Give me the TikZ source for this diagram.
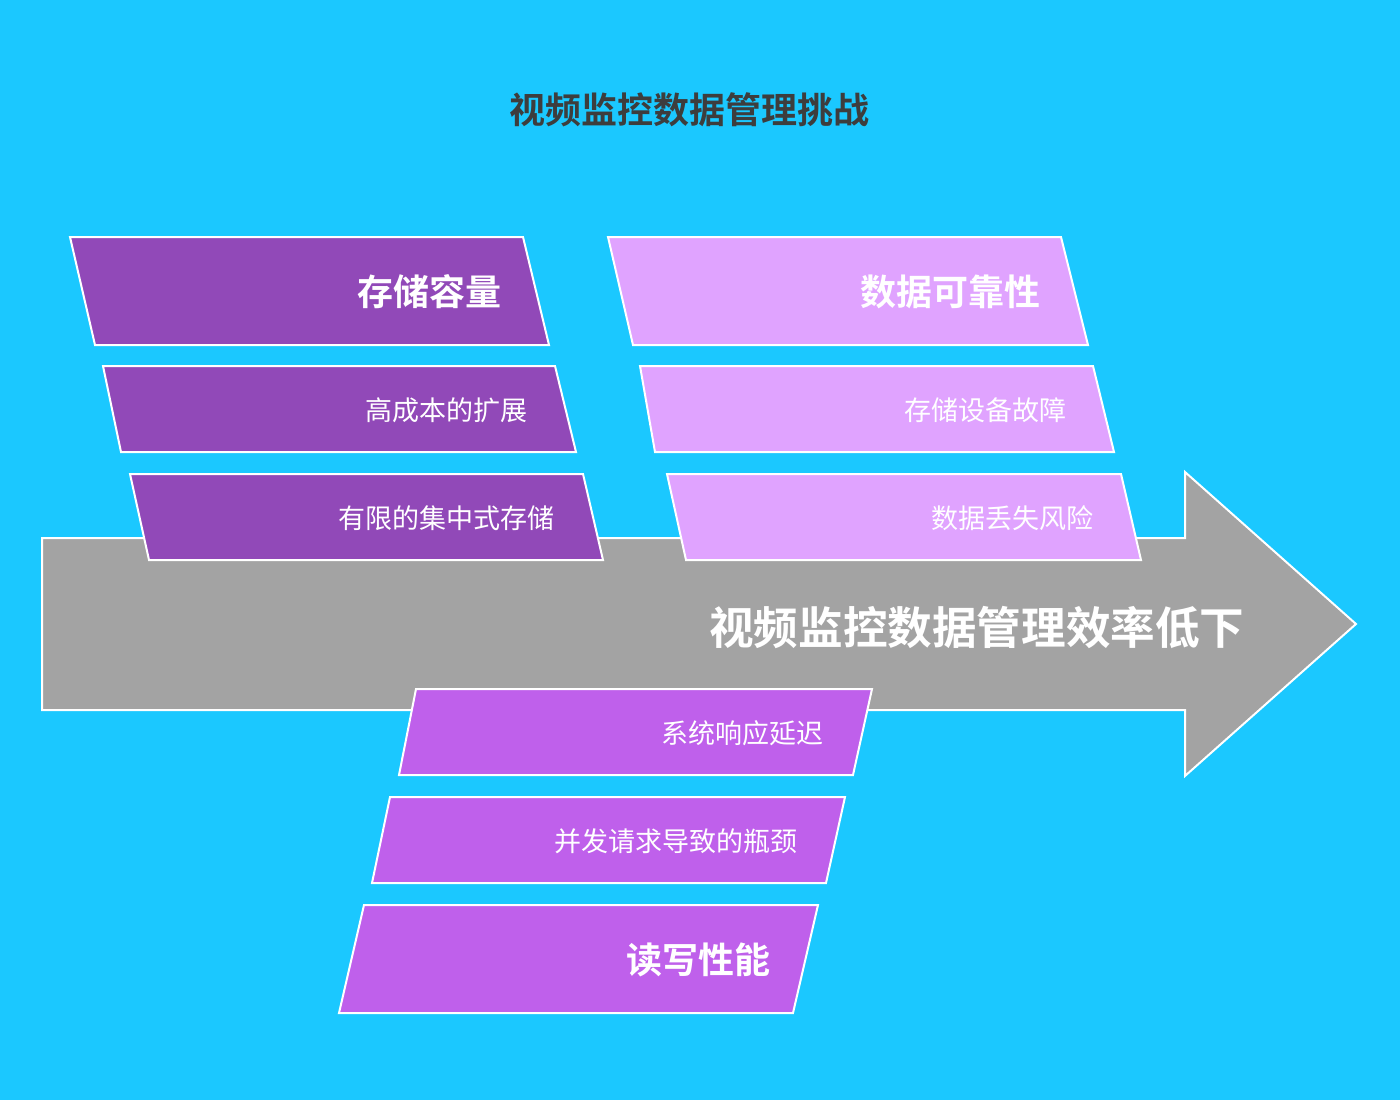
\documentclass[tikz,border=0pt]{standalone}
\usepackage{fontspec}
\setmainfont{Noto Sans CJK SC}[BoldFont={Noto Sans CJK SC Bold}]
\definecolor{bg}{HTML}{1BC8FF}
\definecolor{arrowgray}{HTML}{A3A3A3}
\definecolor{pdark}{HTML}{9149B8}
\definecolor{plight}{HTML}{E0A3FF}
\definecolor{pmid}{HTML}{BF60EB}
\definecolor{titlec}{HTML}{3D3D3D}
\begin{document}
\begin{tikzpicture}[x=1pt,y=-1pt,
  para/.style={draw=white,line width=2pt,line join=miter},
  head/.style={anchor=east,text=white,font=\fontsize{36}{42}\selectfont\bfseries},
  sub/.style={anchor=east,text=white,font=\fontsize{27}{31}\selectfont}]
\fill[bg] (0,0) rectangle (1400,1100);
\useasboundingbox (0,0) rectangle (1400,1100);
\node[text=titlec,font=\fontsize{36}{42}\selectfont\bfseries] (title) at (689,110) {视频监控数据管理挑战};
\draw[para,fill=arrowgray] (42,538) -- (1185,538) -- (1185,472) -- (1356,624) -- (1185,776) -- (1185,710) -- (42,710) -- cycle;
\node[anchor=east,text=white,font=\fontsize{44.6}{51}\selectfont\bfseries] (main) at (1248,627) {视频监控数据管理效率低下};
% left group
\draw[para,fill=pdark] (70,237) -- (523,237) -- (549,345) -- (95,345) -- cycle;
\node[head] (a1) at (505,292) {存储容量};
\draw[para,fill=pdark] (103,366) -- (555,366) -- (576,452) -- (121,452) -- cycle;
\node[sub] (a2) at (531,410) {高成本的扩展};
\draw[para,fill=pdark] (130,474) -- (583,474) -- (603,560) -- (149,560) -- cycle;
\node[sub] (a3) at (558,518) {有限的集中式存储};
% right group
\draw[para,fill=plight] (608,237) -- (1061,237) -- (1088,345) -- (633,345) -- cycle;
\node[head] (b1) at (1044,292) {数据可靠性};
\draw[para,fill=plight] (640,366) -- (1093,366) -- (1114,452) -- (655,452) -- cycle;
\node[sub] (b2) at (1070,410) {存储设备故障};
\draw[para,fill=plight] (667,474) -- (1121,474) -- (1141,560) -- (686,560) -- cycle;
\node[sub] (b3) at (1097,518) {数据丢失风险};
% bottom group
\draw[para,fill=pmid] (416,689) -- (872,689) -- (853,775) -- (399,775) -- cycle;
\node[sub] (c1) at (827,733) {系统响应延迟};
\draw[para,fill=pmid] (390,797) -- (845,797) -- (826,883) -- (372,883) -- cycle;
\node[sub] (c2) at (801,841) {并发请求导致的瓶颈};
\draw[para,fill=pmid] (364,905) -- (818,905) -- (793,1013) -- (339,1013) -- cycle;
\node[head] (c3) at (774,960) {读写性能};
\end{tikzpicture}
\end{document}
